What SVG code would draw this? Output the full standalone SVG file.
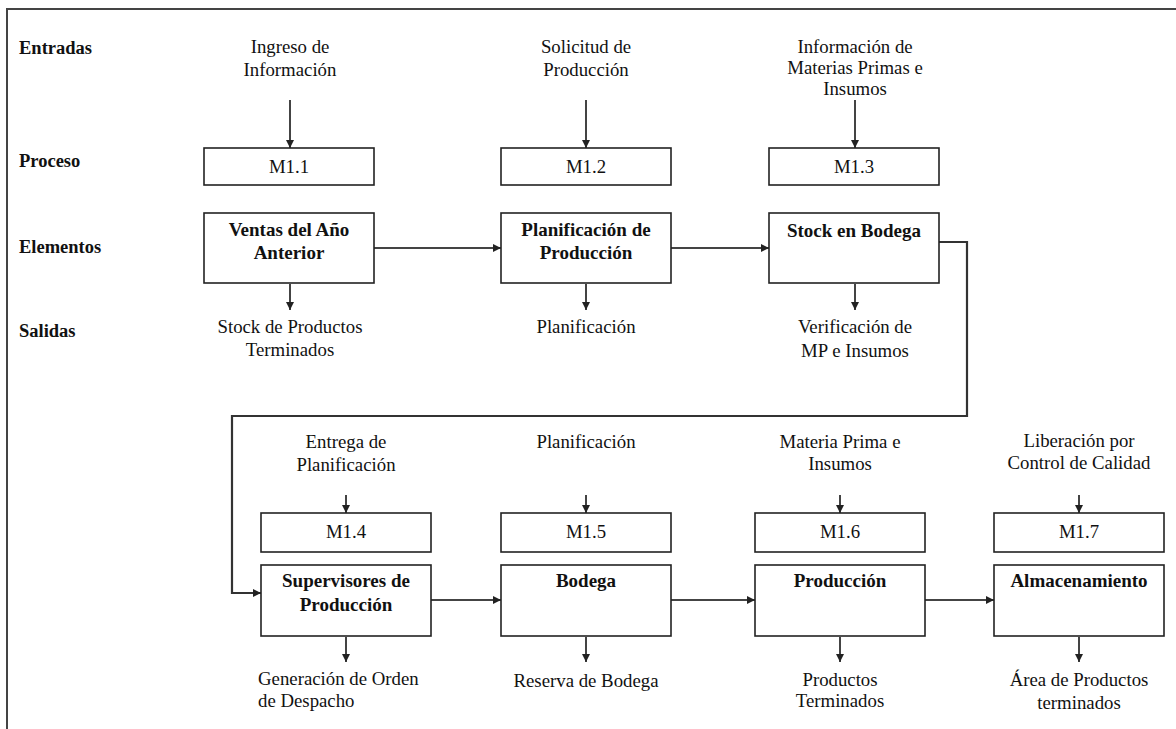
<svg xmlns="http://www.w3.org/2000/svg" width="1176" height="729" viewBox="0 0 1176 729">
  <style>
    text { font-family: 'Liberation Serif', 'DejaVu Serif', serif; font-size: 18.8px; fill: #111; }
    .lbl { font-weight: bold; font-size: 18.5px; }
    .c { text-anchor: middle; }
    .b { font-weight: bold; text-anchor: middle; font-size: 19px; }
    .box { fill: #fff; stroke: #222; stroke-width: 1.6; }
    .arr { fill: none; stroke: #444; stroke-width: 2; marker-end: url(#head); }
    .loop { fill: none; stroke: #333; stroke-width: 2.2; marker-end: url(#head); }
    .frame { fill: none; stroke: #444; stroke-width: 2; }
  </style>
  <defs>
    <marker id="head" markerUnits="userSpaceOnUse" markerWidth="9" markerHeight="9" refX="8" refY="4" orient="auto">
      <path d="M0,0 L8,4 L0,8 z" fill="#222"/>
    </marker>
  </defs>

  <rect width="1176" height="729" fill="#fff"/>
  <!-- open frame: left and top edges only -->
  <path class="frame" d="M7,740 V9 H1190"/>

  <!-- row headings -->
  <g id="row-labels">
    <text class="lbl" x="19" y="54">Entradas</text>
    <text class="lbl" x="19" y="167">Proceso</text>
    <text class="lbl" x="19" y="253">Elementos</text>
    <text class="lbl" x="19" y="337">Salidas</text>
  </g>

  <!-- connectors -->
  <g id="connectors">
    <!-- inputs, row 1 -->
    <path class="arr" d="M290,100 V148"/>
    <path class="arr" d="M586,100 V148"/>
    <path class="arr" d="M855,100 V148"/>
    <!-- outputs, row 1 -->
    <path class="arr" d="M290,284 V310"/>
    <path class="arr" d="M586,284 V310"/>
    <path class="arr" d="M855,284 V310"/>
    <!-- flow, row 1 -->
    <path class="arr" d="M374,248 H501"/>
    <path class="arr" d="M671,248 H769"/>
    <!-- wrap to row 2 -->
    <path class="loop" d="M939,242 H967 V416 H232 V593 H261"/>
    <!-- inputs, row 2 -->
    <path class="arr" d="M346,495 V513"/>
    <path class="arr" d="M586,495 V513"/>
    <path class="arr" d="M840,495 V513"/>
    <path class="arr" d="M1079,495 V513"/>
    <!-- outputs, row 2 -->
    <path class="arr" d="M346,637 V662"/>
    <path class="arr" d="M586,637 V662"/>
    <path class="arr" d="M840,637 V662"/>
    <path class="arr" d="M1079,637 V662"/>
    <!-- flow, row 2 -->
    <path class="arr" d="M431,600 H501"/>
    <path class="arr" d="M671,600 H755"/>
    <path class="arr" d="M925,600 H994"/>
  </g>

  <!-- stage 1 -->
  <g id="m1-1">
    <text class="c" x="290" y="53">Ingreso de</text>
    <text class="c" x="290" y="76">Información</text>
    <rect class="box" x="204" y="148" width="170" height="37"/>
    <text class="c" x="289" y="173">M1.1</text>
    <rect class="box" x="204" y="213" width="170" height="70"/>
    <text class="b" x="289" y="236">Ventas del Año</text>
    <text class="b" x="289" y="259">Anterior</text>
    <text class="c" x="290" y="333">Stock de Productos</text>
    <text class="c" x="290" y="356">Terminados</text>
  </g>

  <!-- stage 2 -->
  <g id="m1-2">
    <text class="c" x="586" y="53">Solicitud de</text>
    <text class="c" x="586" y="76">Producción</text>
    <rect class="box" x="501" y="148" width="170" height="37"/>
    <text class="c" x="586" y="173">M1.2</text>
    <rect class="box" x="501" y="213" width="170" height="70"/>
    <text class="b" x="586" y="236">Planificación de</text>
    <text class="b" x="586" y="259">Producción</text>
    <text class="c" x="586" y="333">Planificación</text>
  </g>

  <!-- stage 3 -->
  <g id="m1-3">
    <text class="c" x="855" y="53">Información de</text>
    <text class="c" x="855" y="74">Materias Primas e</text>
    <text class="c" x="855" y="95">Insumos</text>
    <rect class="box" x="769" y="148" width="170" height="37"/>
    <text class="c" x="854" y="173">M1.3</text>
    <rect class="box" x="769" y="213" width="170" height="70"/>
    <text class="b" x="854" y="237">Stock en Bodega</text>
    <text class="c" x="855" y="333">Verificación de</text>
    <text class="c" x="855" y="357">MP e Insumos</text>
  </g>

  <!-- stage 4 -->
  <g id="m1-4">
    <text class="c" x="346" y="448">Entrega de</text>
    <text class="c" x="346" y="471">Planificación</text>
    <rect class="box" x="261" y="513" width="170" height="39"/>
    <text class="c" x="346" y="538">M1.4</text>
    <rect class="box" x="261" y="565" width="170" height="71"/>
    <text class="b" x="346" y="587">Supervisores de</text>
    <text class="b" x="346" y="611">Producción</text>
    <text x="258" y="685">Generación de Orden</text>
    <text x="258" y="707">de Despacho</text>
  </g>

  <!-- stage 5 -->
  <g id="m1-5">
    <text class="c" x="586" y="448">Planificación</text>
    <rect class="box" x="501" y="513" width="170" height="39"/>
    <text class="c" x="586" y="538">M1.5</text>
    <rect class="box" x="501" y="565" width="170" height="71"/>
    <text class="b" x="586" y="587">Bodega</text>
    <text class="c" x="586" y="687">Reserva de Bodega</text>
  </g>

  <!-- stage 6 -->
  <g id="m1-6">
    <text class="c" x="840" y="448">Materia Prima e</text>
    <text class="c" x="840" y="470">Insumos</text>
    <rect class="box" x="755" y="513" width="170" height="39"/>
    <text class="c" x="840" y="538">M1.6</text>
    <rect class="box" x="755" y="565" width="170" height="71"/>
    <text class="b" x="840" y="587">Producción</text>
    <text class="c" x="840" y="686">Productos</text>
    <text class="c" x="840" y="707">Terminados</text>
  </g>

  <!-- stage 7 -->
  <g id="m1-7">
    <text class="c" x="1079" y="447">Liberación por</text>
    <text class="c" x="1079" y="469">Control de Calidad</text>
    <rect class="box" x="994" y="513" width="170" height="39"/>
    <text class="c" x="1079" y="538">M1.7</text>
    <rect class="box" x="994" y="565" width="170" height="71"/>
    <text class="b" x="1079" y="587">Almacenamiento</text>
    <text class="c" x="1079" y="686">Área de Productos</text>
    <text class="c" x="1079" y="709">terminados</text>
  </g>
</svg>
